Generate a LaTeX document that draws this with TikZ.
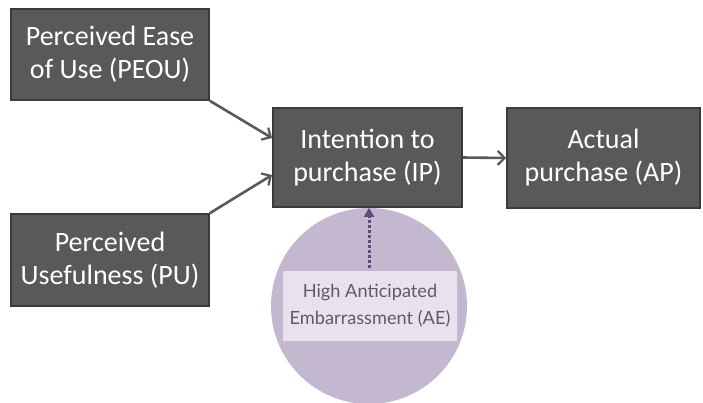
\documentclass[tikz,border=0pt]{standalone}
\usepackage{fontspec}
\setmainfont{Carlito}
\newfontfamily\aefont{Lato}
\usetikzlibrary{arrows.meta}
\definecolor{boxfill}{HTML}{595959}
\definecolor{boxedge}{HTML}{3A3A3A}
\definecolor{linkgray}{HTML}{595959}
\definecolor{circlefill}{HTML}{C3B8CF}
\definecolor{labelfill}{HTML}{E7E2EE}
\definecolor{labeltext}{HTML}{5E5A6C}
\definecolor{dotpurple}{HTML}{604A7B}
\tikzset{
  construct/.style={draw=boxedge, line width=1.6pt, fill=boxfill, text=white,
    align=center, inner sep=0pt,
    font=\fontsize{28}{33}\selectfont},
  link/.style={draw=linkgray, line width=2.6pt,
    -{Straight Barb[length=7pt, width=14pt, line width=2.2pt]}},
  moderator/.style={draw=dotpurple, line width=3pt, dash pattern=on 3pt off 2pt,
    -{Triangle[length=9pt, width=10pt]}}
}
\begin{document}
\begin{tikzpicture}[x=1pt, y=-1pt]
  \useasboundingbox (0,0) rectangle (703,402);
  % moderating circle with its label
  \fill[circlefill] (369,306) circle[radius=98];
  \node[fill=labelfill, rounded corners=1pt, minimum width=174pt, minimum height=70pt,
        inner sep=0pt, text=labeltext, align=center,
        font=\aefont\fontsize{18.2}{27}\selectfont] (ae) at (370,306)
        {High Anticipated\\Embarrassment (AE)};
  % construct boxes
  \node[construct, minimum width=198pt, minimum height=91pt] (peou) at (110,54.5)
        {Perceived Ease\\of Use (PEOU)};
  \node[construct, minimum width=198pt, minimum height=92pt] (pu) at (110,260)
        {Perceived\\Usefulness (PU)};
  \node[construct, minimum width=189pt, minimum height=99pt] (ip) at (367.5,157.5)
        {Intention to\\purchase (IP)};
  \node[construct, minimum width=193pt, minimum height=100pt] (ap) at (603.5,158)
        {Actual\\purchase (AP)};
  % causal links
  \coordinate (ipin1) at (272,138);
  \coordinate (ipin2) at (272,175);
  \draw[link] (peou.south east) -- (ipin1);
  \draw[link] (pu.north east) -- (ipin2);
  \draw[link] (ip.east) -- (ap.west);
  % moderation effect
  \coordinate (aetop) at (369,268);
  \draw[moderator] (aetop) -- (ip.south -| aetop);
\end{tikzpicture}
\end{document}
